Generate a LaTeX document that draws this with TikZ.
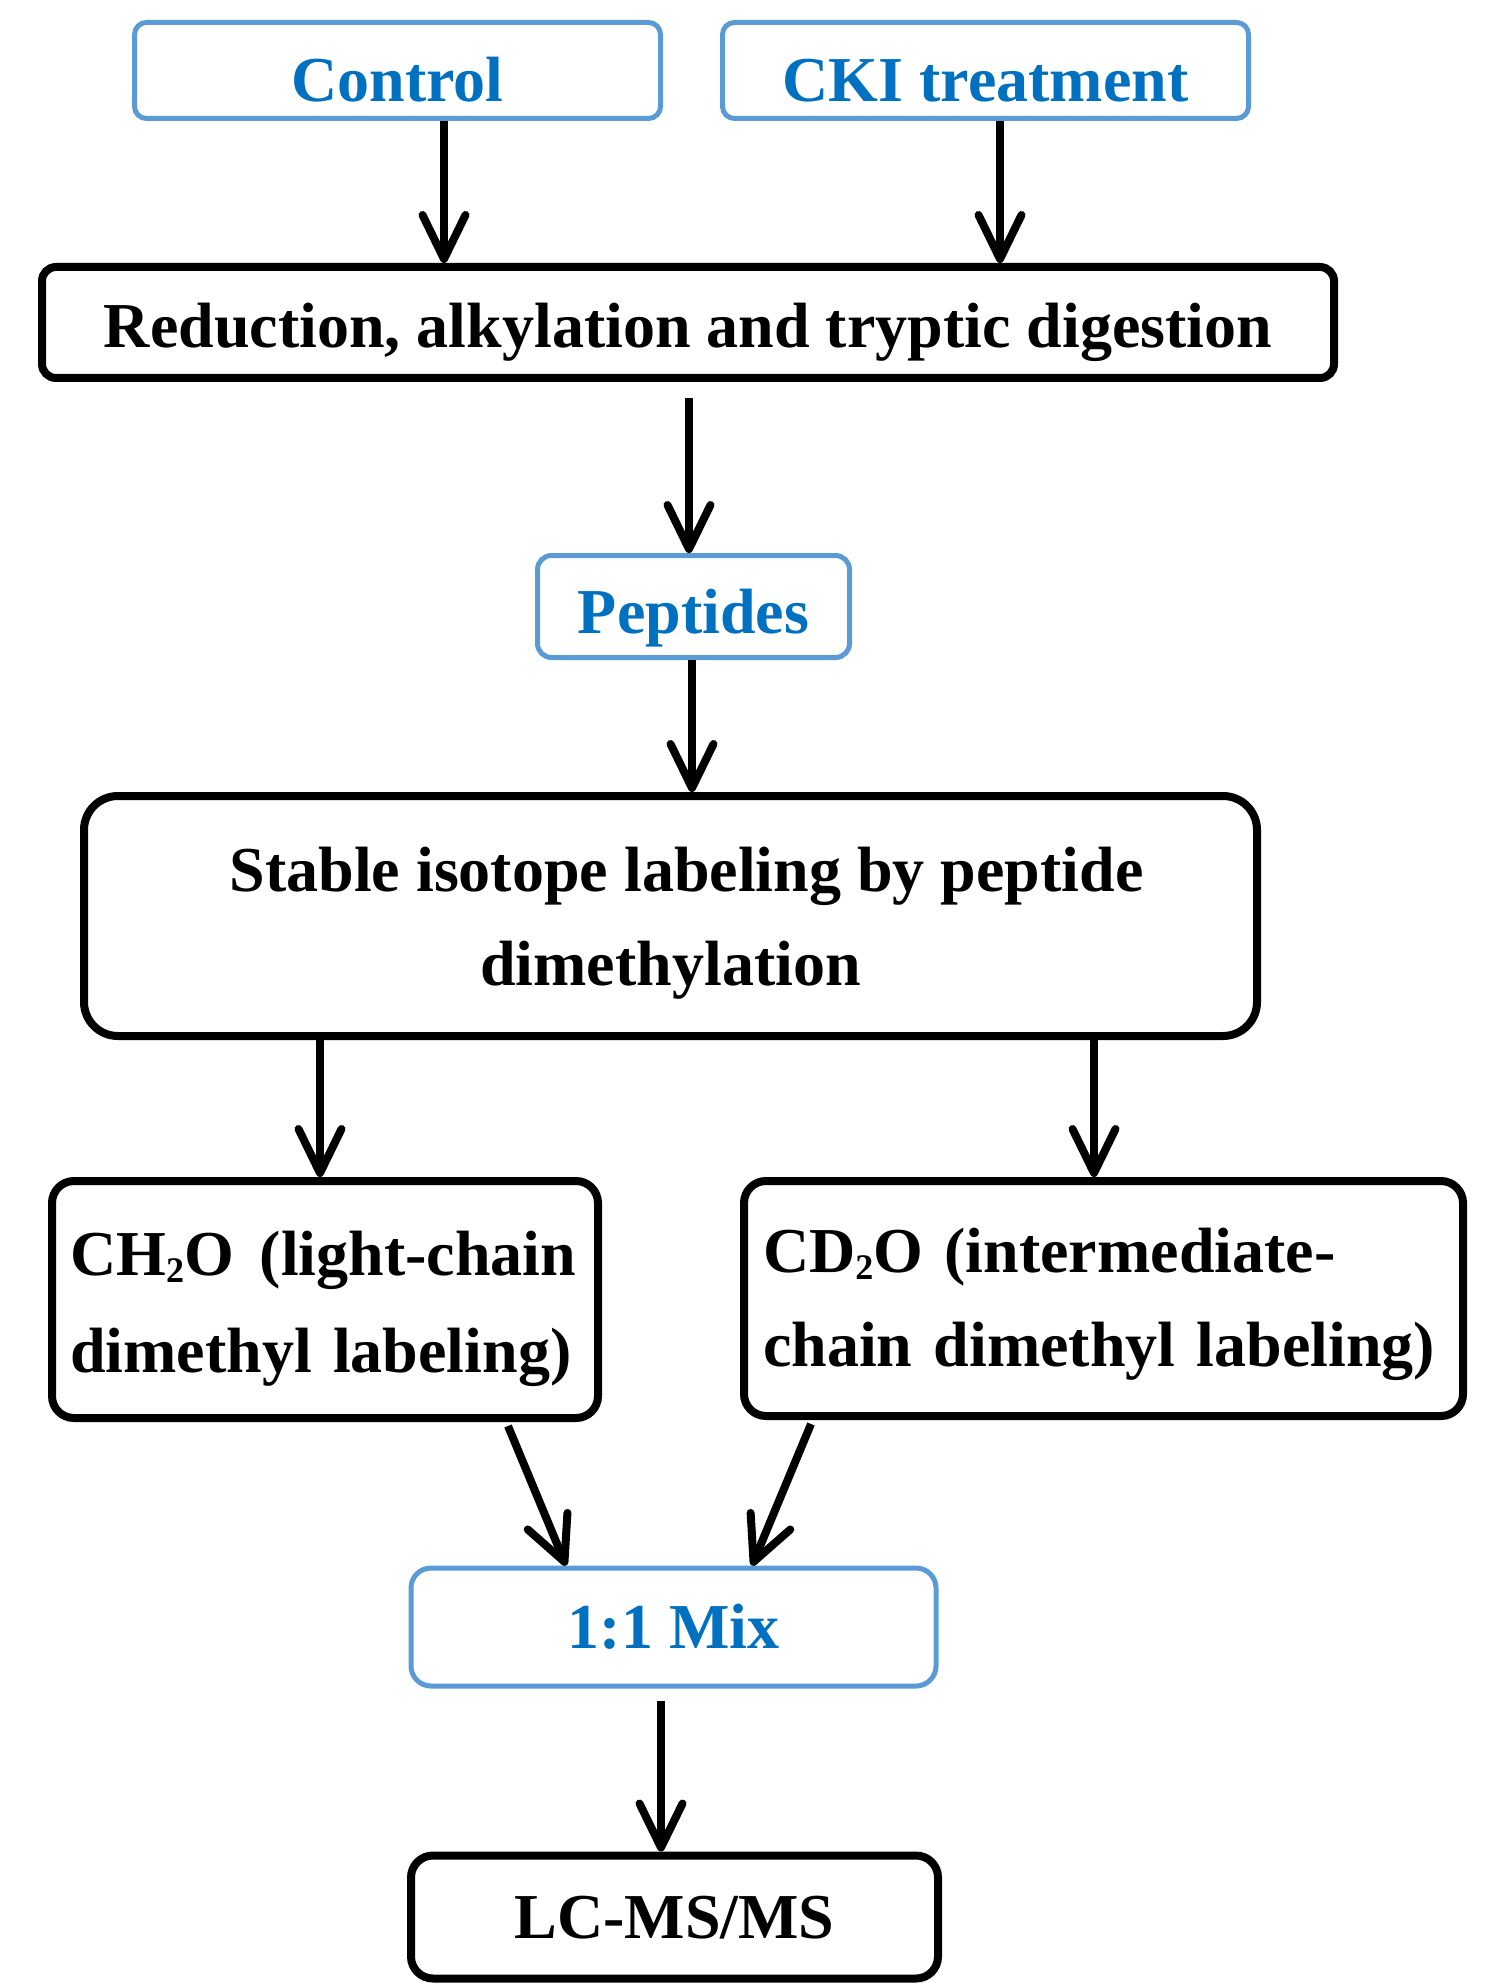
\documentclass[tikz,border=0pt]{standalone}
\usepackage{fontspec}
\setmainfont{Liberation Serif}
\usetikzlibrary{arrows.meta}
\definecolor{bbord}{HTML}{5B9BD5}
\definecolor{btext}{HTML}{0070C0}
\newcommand{\subtwo}{\raisebox{-3.5pt}{\fontsize{18}{18}\selectfont 2}}
\begin{document}
\begin{tikzpicture}[x=0.5pt,y=-0.5pt,
  txt/.style={font=\fontsize{32}{47}\selectfont\bfseries, text depth=0pt},
  box/.style={txt, draw, line width=4pt, rounded corners=11pt, inner sep=0pt},
  bluebox/.style={txt, draw=bbord, line width=2.5pt, rounded corners=6pt, text=btext, inner sep=0pt},
  arr/.style={line width=4pt, -{Straight Barb[round,length=22pt,width=21.5pt]}}]
\useasboundingbox (0,0) rectangle (1500,1984);
% nodes
\node[bluebox, minimum width=263pt, minimum height=48pt, text height=31pt] (ctrl) at (397.5,70.5) {Control};
\node[bluebox, minimum width=263pt, minimum height=48pt, text height=31pt] (cki) at (985.5,70.5) {CKI treatment};
\node[box, rounded corners=7pt, minimum width=646pt, minimum height=55.5pt, text height=25.5pt] (red) at (688,322.5) {Reduction, alkylation and tryptic digestion};
\node[bluebox, rounded corners=7pt, minimum width=156pt, minimum height=51pt, text height=27pt] (pep) at (693.5,606.5) {Peptides};
\node[box, rounded corners=17pt, minimum width=586.5pt, minimum height=120pt, align=center, text height=69pt] (sil) at (670.5,916) {\hspace*{16pt}Stable isotope labeling by peptide\\dimethylation};
\node[box, minimum width=273pt, minimum height=118.5pt, text width=255pt, align=left, text height=0pt, text depth=24.5pt] (ch) at (325,1299.5) {\mbox{CH\subtwo O\hspace{13pt}(light-chain}\\[1.5pt]\mbox{dimethyl labeling)}};
\node[box, minimum width=359.5pt, minimum height=117.5pt, text width=340.5pt, align=left, text height=0pt, text depth=26.5pt] (cd) at (1103.5,1298.5) {\mbox{CD\subtwo O (intermediate-}\\\mbox{chain dimethyl labeling)}};
\node[bluebox, rounded corners=10pt, minimum width=262.5pt, minimum height=59pt, text height=21.5pt] (mix) at (673.5,1627) {1:1 Mix};
\node[box, minimum width=263.5pt, minimum height=61.5pt, text height=21.5pt] (lc) at (674.5,1917) {LC-MS/MS};
% x positions of connectors
\coordinate (xa) at (444,0);
\coordinate (xb) at (1000,0);
\coordinate (xc) at (689,0);
\coordinate (xd) at (692,0);
\coordinate (xe) at (320,0);
\coordinate (xf) at (1094,0);
\coordinate (xg) at (508,0);
\coordinate (xh) at (566,0);
\coordinate (xi) at (811,0);
\coordinate (xj) at (752,0);
\coordinate (xk) at (661,0);
% connectors
\draw[arr] (ctrl.south -| xa) -- (red.north -| xa);
\draw[arr] (cki.south -| xb) -- (red.north -| xb);
\draw[arr] ([yshift=-8pt]red.south -| xc) -- (pep.north -| xc);
\draw[arr] (pep.south -| xd) -- (sil.north -| xd);
\draw[arr] (sil.south -| xe) -- (ch.north -| xe);
\draw[arr] (sil.south -| xf) -- (cd.north -| xf);
\draw[arr] ([yshift=-2pt]ch.south -| xg) -- (mix.north -| xh);
\draw[arr] ([yshift=-2pt]cd.south -| xi) -- (mix.north -| xj);
\draw[arr] ([yshift=-6pt]mix.south -| xk) -- (lc.north -| xk);
\end{tikzpicture}
\end{document}
